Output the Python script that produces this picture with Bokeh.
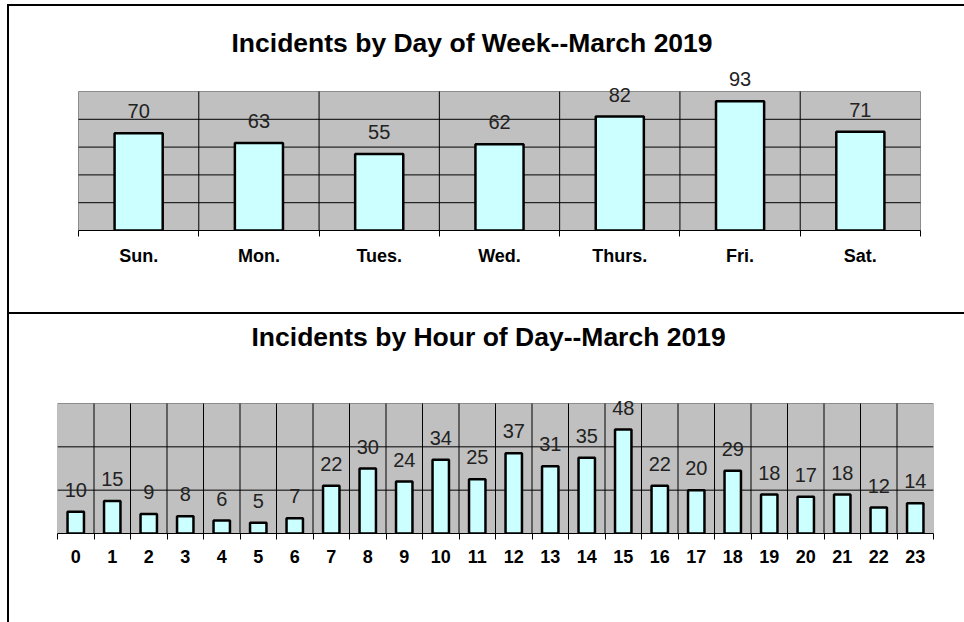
from bokeh.plotting import figure
from bokeh.models import Range1d, FixedTicker, LabelSet, ColumnDataSource
from bokeh.layouts import column
from bokeh.embed import file_html
from bokeh.resources import INLINE
from bokeh.core.properties import value

# ---- data ----
days = ["Sun.", "Mon.", "Tues.", "Wed.", "Thurs.", "Fri.", "Sat."]
day_counts = [70, 63, 55, 62, 82, 93, 71]

hours = ["0", "1", "2", "3", "4", "5", "6", "7", "8", "9", "10", "11",
         "12", "13", "14", "15", "16", "17", "18", "19", "20", "21", "22", "23"]
hour_counts = [10, 15, 9, 8, 6, 5, 7, 22, 30, 24, 34, 25,
               37, 31, 35, 48, 22, 20, 29, 18, 17, 18, 12, 14]

title_day = "Incidents by Day of Week--March 2019"
title_hour = "Incidents by Hour of Day--March 2019"

FONT = "Liberation Sans"

# shared frame (canvas px) -- figures in a column get aligned frames
ML, MR = 48, 33
CANVAS_W = 957
FRAME_W = CANVAS_W - ML - MR


def make_chart(cats, vals, ymax, ystep, title, height, mt, mb,
               gray_left_px, gray_right_px, gray_h_px, bar_w,
               title_offset, title_standoff, label_standoff, styles):
    n = len(cats)
    centers = [i + 0.5 for i in range(n)]
    bounds = list(range(n + 1))
    # x range so that [0, n] maps onto the wanted gray area
    ppu = (FRAME_W - gray_left_px - gray_right_px) / n
    x0 = -gray_left_px / ppu
    x1 = n + gray_right_px / ppu
    frame_h = height - mt - mb
    y_end = ymax * frame_h / gray_h_px

    p = figure(width=CANVAS_W, height=height,
               x_range=Range1d(x0, x1), y_range=Range1d(0, y_end),
               output_backend="svg", toolbar_location=None,
               min_border_left=ML, min_border_right=MR,
               min_border_top=mt, min_border_bottom=mb,
               styles=styles)
    p.background_fill_color = "white"
    p.border_fill_color = "white"
    p.outline_line_color = None
    p.xgrid.visible = False
    p.ygrid.visible = False

    # plot area
    p.quad(left=[0], right=[n], bottom=[0], top=[ymax],
           fill_color="#c0c0c0", line_color="#8c8c8c", line_width=1)
    ys = list(range(ystep, ymax, ystep))
    p.segment(x0=[0] * len(ys), x1=[n] * len(ys), y0=ys, y1=ys,
              line_color="black", line_width=1)
    inner = bounds[1:-1]
    p.segment(x0=inner, x1=inner, y0=[0] * len(inner), y1=[ymax] * len(inner),
              line_color="black", line_width=1)

    src = ColumnDataSource(dict(x=centers, top=vals, lab=[str(v) for v in vals]))
    p.vbar(x="x", top="top", bottom=0, width=bar_w, source=src,
           fill_color="#ccffff", line_color="black", line_width=2.5)

    labels = LabelSet(x="x", y="top", text="lab", source=src,
                      y_offset=22, text_align="center", text_baseline="middle",
                      text_font=value(FONT), text_font_size="20px",
                      text_color="#222222")
    p.add_layout(labels)

    # axes
    p.yaxis.visible = False
    ax = p.xaxis[0]
    ax.bounds = (0, n)
    ax.ticker = FixedTicker(ticks=centers, minor_ticks=bounds)
    ax.major_label_overrides = {c: lab for c, lab in zip(centers, cats)}
    ax.major_tick_line_color = None
    ax.major_tick_in = 0
    ax.major_tick_out = 6
    ax.minor_tick_in = 0
    ax.minor_tick_out = 6
    ax.minor_tick_line_color = "black"
    ax.axis_line_color = "black"
    ax.axis_line_width = 1
    ax.major_label_standoff = label_standoff
    ax.major_label_text_font = FONT
    ax.major_label_text_font_style = "bold"
    ax.major_label_text_font_size = "18px"
    ax.major_label_text_color = "black"

    p.title.text = title
    p.title.align = "left"
    p.title.offset = title_offset
    p.title.standoff = title_standoff
    p.title.text_font = FONT
    p.title.text_font_style = "bold"
    p.title.text_font_size = "26.5px"
    p.title.text_color = "black"
    return p


# top chart: box page y 4..314 (border-box), gray area x 78..920, y 91..230
p1 = make_chart(days, day_counts, 100, 20, title_day, 310, 57, 86,
                78 - 57, 933 - 920, 139, 0.4, 174, 12, 9,
                {"margin-left": "7px", "margin-top": "4px",
                 "border-top": "2px solid black", "border-left": "2px solid black",
                 "border-bottom": "2px solid black"})
# bottom chart: box page y 314..622, gray area x 57..933, y 403..533
p2 = make_chart(hours, hour_counts, 60, 20, title_hour, 308, 42, 89,
                0, 0, 130, 0.45, 194, 10, 10,
                {"margin-left": "7px", "border-left": "2px solid black"})

layout = column(p1, p2, spacing=0)
open("out.html", "w").write(file_html(layout, INLINE))
